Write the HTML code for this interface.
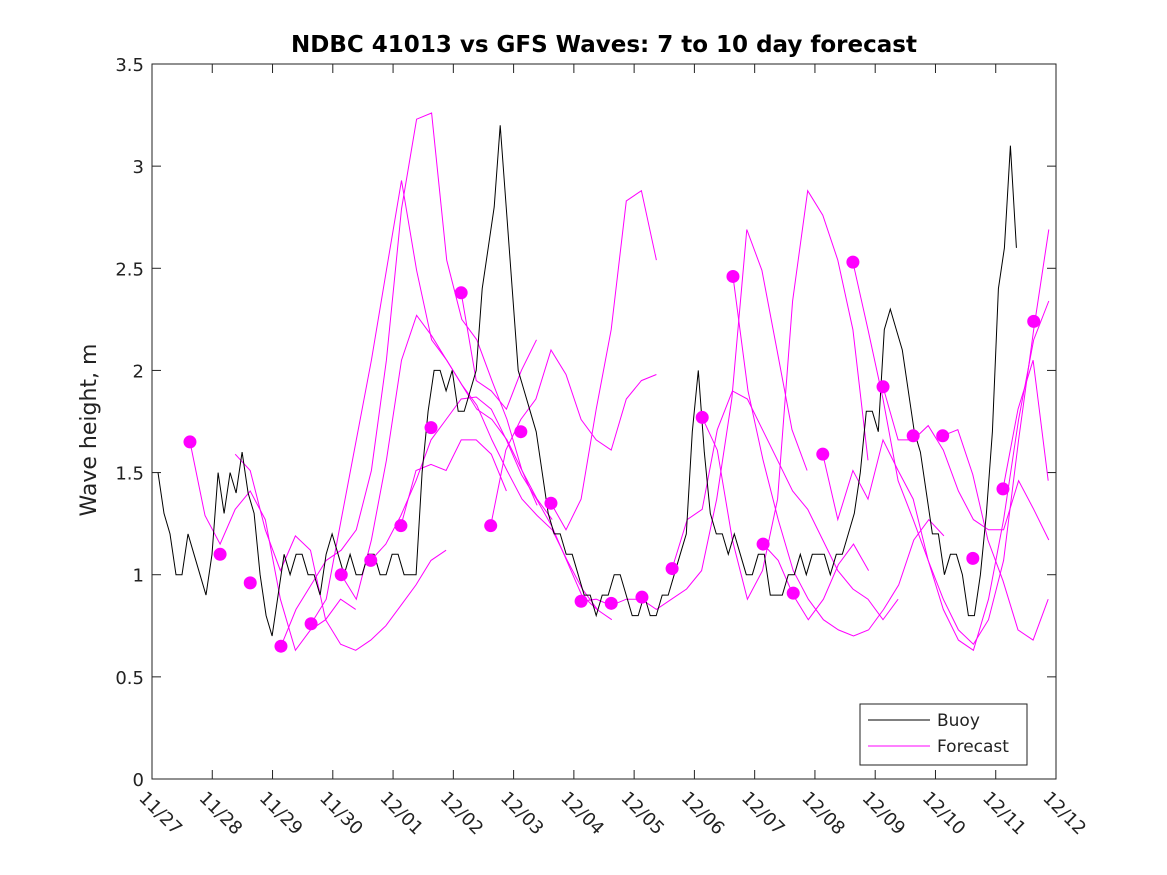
<!DOCTYPE html>
<html><head><meta charset="utf-8"><style>
body{margin:0;background:#fff;}
svg{display:block;font-family:"DejaVu Sans","Liberation Sans",sans-serif;}
</style></head><body>
<svg id="chart" width="1167" height="875">
<rect width="1167" height="875" fill="#fff"/>
<text x="604" y="52" text-anchor="middle" font-size="23" font-weight="bold" fill="#000">NDBC 41013 vs GFS Waves: 7 to 10 day forecast</text>
<text transform="translate(96,430) rotate(-90)" text-anchor="middle" font-size="22" fill="#222">Wave height, m</text>
<g id="grid"></g>
<g id="series"></g>
<rect x="152" y="64" width="904" height="715" fill="none" stroke="#222" stroke-width="1"/>
<g>
<rect x="860" y="704" width="167" height="61" fill="#fff" stroke="#222" stroke-width="1"/>
<line x1="868" y1="720" x2="930" y2="720" stroke="#000" stroke-width="1"/>
<text x="937" y="726" font-size="17" fill="#222">Buoy</text>
<line x1="868" y1="746" x2="930" y2="746" stroke="#f0f" stroke-width="1"/>
<text x="937" y="752" font-size="17" fill="#222">Forecast</text>
</g>
</svg>
<script>
const xTickLabels=["11/27","11/28","11/29","11/30","12/01","12/02","12/03","12/04","12/05","12/06","12/07","12/08","12/09","12/10","12/11","12/12"];
const yTicks=[0,0.5,1,1.5,2,2.5,3,3.5];
const yTickLabels=["0","0.5","1","1.5","2","2.5","3","3.5"];
const buoyStart=0.1, buoyStep=0.0996;
const buoyValues=[1.5,1.3,1.2,1.0,1.0,1.2,1.1,1.0,0.9,1.1,1.5,1.3,1.5,1.4,1.6,1.4,1.3,1.0,0.8,0.7,0.9,1.1,1.0,1.1,1.1,1.0,1.0,0.9,1.1,1.2,1.1,1.0,1.1,1.0,1.0,1.1,1.1,1.0,1.0,1.1,1.1,1.0,1.0,1.0,1.5,1.8,2.0,2.0,1.9,2.0,1.8,1.8,1.9,2.0,2.4,2.6,2.8,3.2,2.8,2.4,2.0,1.9,1.8,1.7,1.5,1.3,1.2,1.2,1.1,1.1,1.0,0.9,0.9,0.8,0.9,0.9,1.0,1.0,0.9,0.8,0.8,0.9,0.8,0.8,0.9,0.9,1.0,1.1,1.2,1.7,2.0,1.6,1.3,1.2,1.2,1.1,1.2,1.1,1.0,1.0,1.1,1.1,0.9,0.9,0.9,1.0,1.0,1.1,1.0,1.1,1.1,1.1,1.0,1.1,1.1,1.2,1.3,1.5,1.8,1.8,1.7,2.2,2.3,2.2,2.1,1.9,1.7,1.6,1.4,1.2,1.2,1.0,1.1,1.1,1.0,0.8,0.8,1.0,1.3,1.7,2.4,2.6,3.1,2.6];
const dotDays=[0.63,1.13,1.63,2.14,2.64,3.14,3.63,4.13,4.63,5.13,5.62,6.12,6.62,7.12,7.62,8.13,8.63,9.13,9.64,10.14,10.64,11.13,11.63,12.13,12.63,13.12,13.62,14.12,14.63];
const dotValues=[1.65,1.10,0.96,0.65,0.76,1.00,1.07,1.24,1.72,2.38,1.24,1.70,1.35,0.87,0.86,0.89,1.03,1.77,2.46,1.15,0.91,1.59,2.53,1.92,1.68,1.68,1.08,1.42,2.24];
const fcStep=0.25;
const fcStarts=[0.63,1.38,2.14,2.64,3.14,3.63,5.13,4.13,5.62,6.62,7.12,9.13,9.64,8.63,11.63,11.13,12.13,13.12,14.12,10.14];
const fcValues=[
[1.65,1.29,1.15,1.32,1.41,1.27,0.88,0.63,0.73,0.78,0.88,0.83],
[1.59,1.51,1.22,1.02,1.19,1.12,0.78,0.66,0.63,0.68,0.75,0.85,0.95,1.07,1.12],
[0.65,0.83,0.95,1.07,1.12,1.22,1.51,2.05,2.79,3.23,3.26,2.54,2.25,2.15,1.95,1.76,1.51,1.34],
[0.76,0.88,1.27,1.66,2.05,2.49,2.93,2.49,2.15,2.05,1.93,1.81,1.76,1.66,1.51,1.37,1.27],
[1.00,0.88,1.17,1.56,2.05,2.27,2.17,2.05,1.93,1.83,1.66,1.51,1.37,1.29,1.22,1.07,0.93,0.83],
[1.07,1.15,1.29,1.46,1.66,1.76,1.86,1.87,1.81,1.66,1.49,1.37,1.24,1.07,0.90,0.83,0.78],
[2.38,1.95,1.90,1.81,2.00,2.15],
[1.24,1.51,1.54,1.51,1.66,1.66,1.59,1.41],
[1.24,1.61,1.76,1.86,2.10,1.98,1.76,1.66,1.61,1.86,1.95,1.98],
[1.35,1.22,1.37,1.81,2.20,2.83,2.88,2.54],
[0.87,0.88,0.85,0.88,0.88,0.83,0.88,0.93,1.02,1.37,1.86,2.69,2.49,2.10,1.71,1.51],
[1.77,1.61,1.17,0.88,1.02,1.37,2.34,2.88,2.76,2.54,2.20,1.56],
[2.46,1.90,1.56,1.27,1.02,0.88,0.78,0.73,0.70,0.73,0.83,0.95,1.17,1.27,1.19],
[1.03,1.27,1.32,1.71,1.90,1.86,1.71,1.56,1.41,1.32,1.17,1.02,0.93,0.88,0.78,0.88],
[2.53,2.20,1.86,1.46,1.27,1.07,0.88,0.73,0.66,0.78,1.07,1.66,2.20,2.69],
[1.59,1.27,1.51,1.37,1.66,1.51,1.37,1.07,0.83,0.68,0.63,0.88,1.27,1.76,2.15,2.34],
[1.92,1.66,1.66,1.73,1.61,1.41,1.27,1.22,1.22,1.46,1.32,1.17],
[1.68,1.71,1.49,1.17,0.97,0.73,0.68,0.88],
[1.42,1.81,2.05,1.46],
[1.15,1.07,0.90,0.78,0.88,1.05,1.15,1.02]
];
const NS="http://www.w3.org/2000/svg";
const X0=152,X1=1056,Y0=779,Y1=64;
function xs(d){return X0+d*(X1-X0)/15;}
function ys(v){return Y0-v*(Y0-Y1)/3.5;}
function mk(tag,attrs,parent){const e=document.createElementNS(NS,tag);for(const k in attrs)e.setAttribute(k,attrs[k]);parent.appendChild(e);return e;}
const grid=document.getElementById('grid'),ser=document.getElementById('series');
yTicks.forEach((t,i)=>{
  const y=ys(t);
  const l1=mk('line',{x1:X0,x2:X0+9,y1:y,y2:y,stroke:'#222'},grid);
  
  
  const l2=mk('line',{x1:X1-9,x2:X1,y1:y,y2:y,stroke:'#222'},grid);
  
  
  const tx=mk('text',{x:X0-8,y:y+7,'text-anchor':'end','font-size':18,fill:'#222'},grid);
  tx.textContent=yTickLabels[i];
  
  
});
xTickLabels.forEach((lab,i)=>{
  const x=xs(i);
  const l1=mk('line',{x1:x,x2:x,y1:Y0,y2:Y0-9,stroke:'#222'},grid);
  
  
  const l2=mk('line',{x1:x,x2:x,y1:Y1,y2:Y1+9,stroke:'#222'},grid);
  
  
  const tx=mk('text',{transform:`translate(${x-14},${Y0+20}) rotate(45)`,'font-size':18,fill:'#222'},grid);
  tx.textContent=lab;
  
  
});
fcValues.forEach((arr,i)=>{
  const pts=arr.map((v,j)=>xs(fcStarts[i]+j*fcStep).toFixed(1)+','+ys(v).toFixed(1)).join(' ');
  const p=mk('polyline',{points:pts,fill:'none',stroke:'#f0f','stroke-width':1},ser);
  
  
});
const bpts=buoyValues.map((v,j)=>xs(buoyStart+j*buoyStep).toFixed(1)+','+ys(v).toFixed(1)).join(' ');
const bl=mk('polyline',{points:bpts,fill:'none',stroke:'#000','stroke-width':1},ser);


dotDays.forEach((d,i)=>{
  const c=mk('circle',{cx:xs(d),cy:ys(dotValues[i]),r:6.5,fill:'#f0f'},ser);
  
  
});
</script>
</body></html>
